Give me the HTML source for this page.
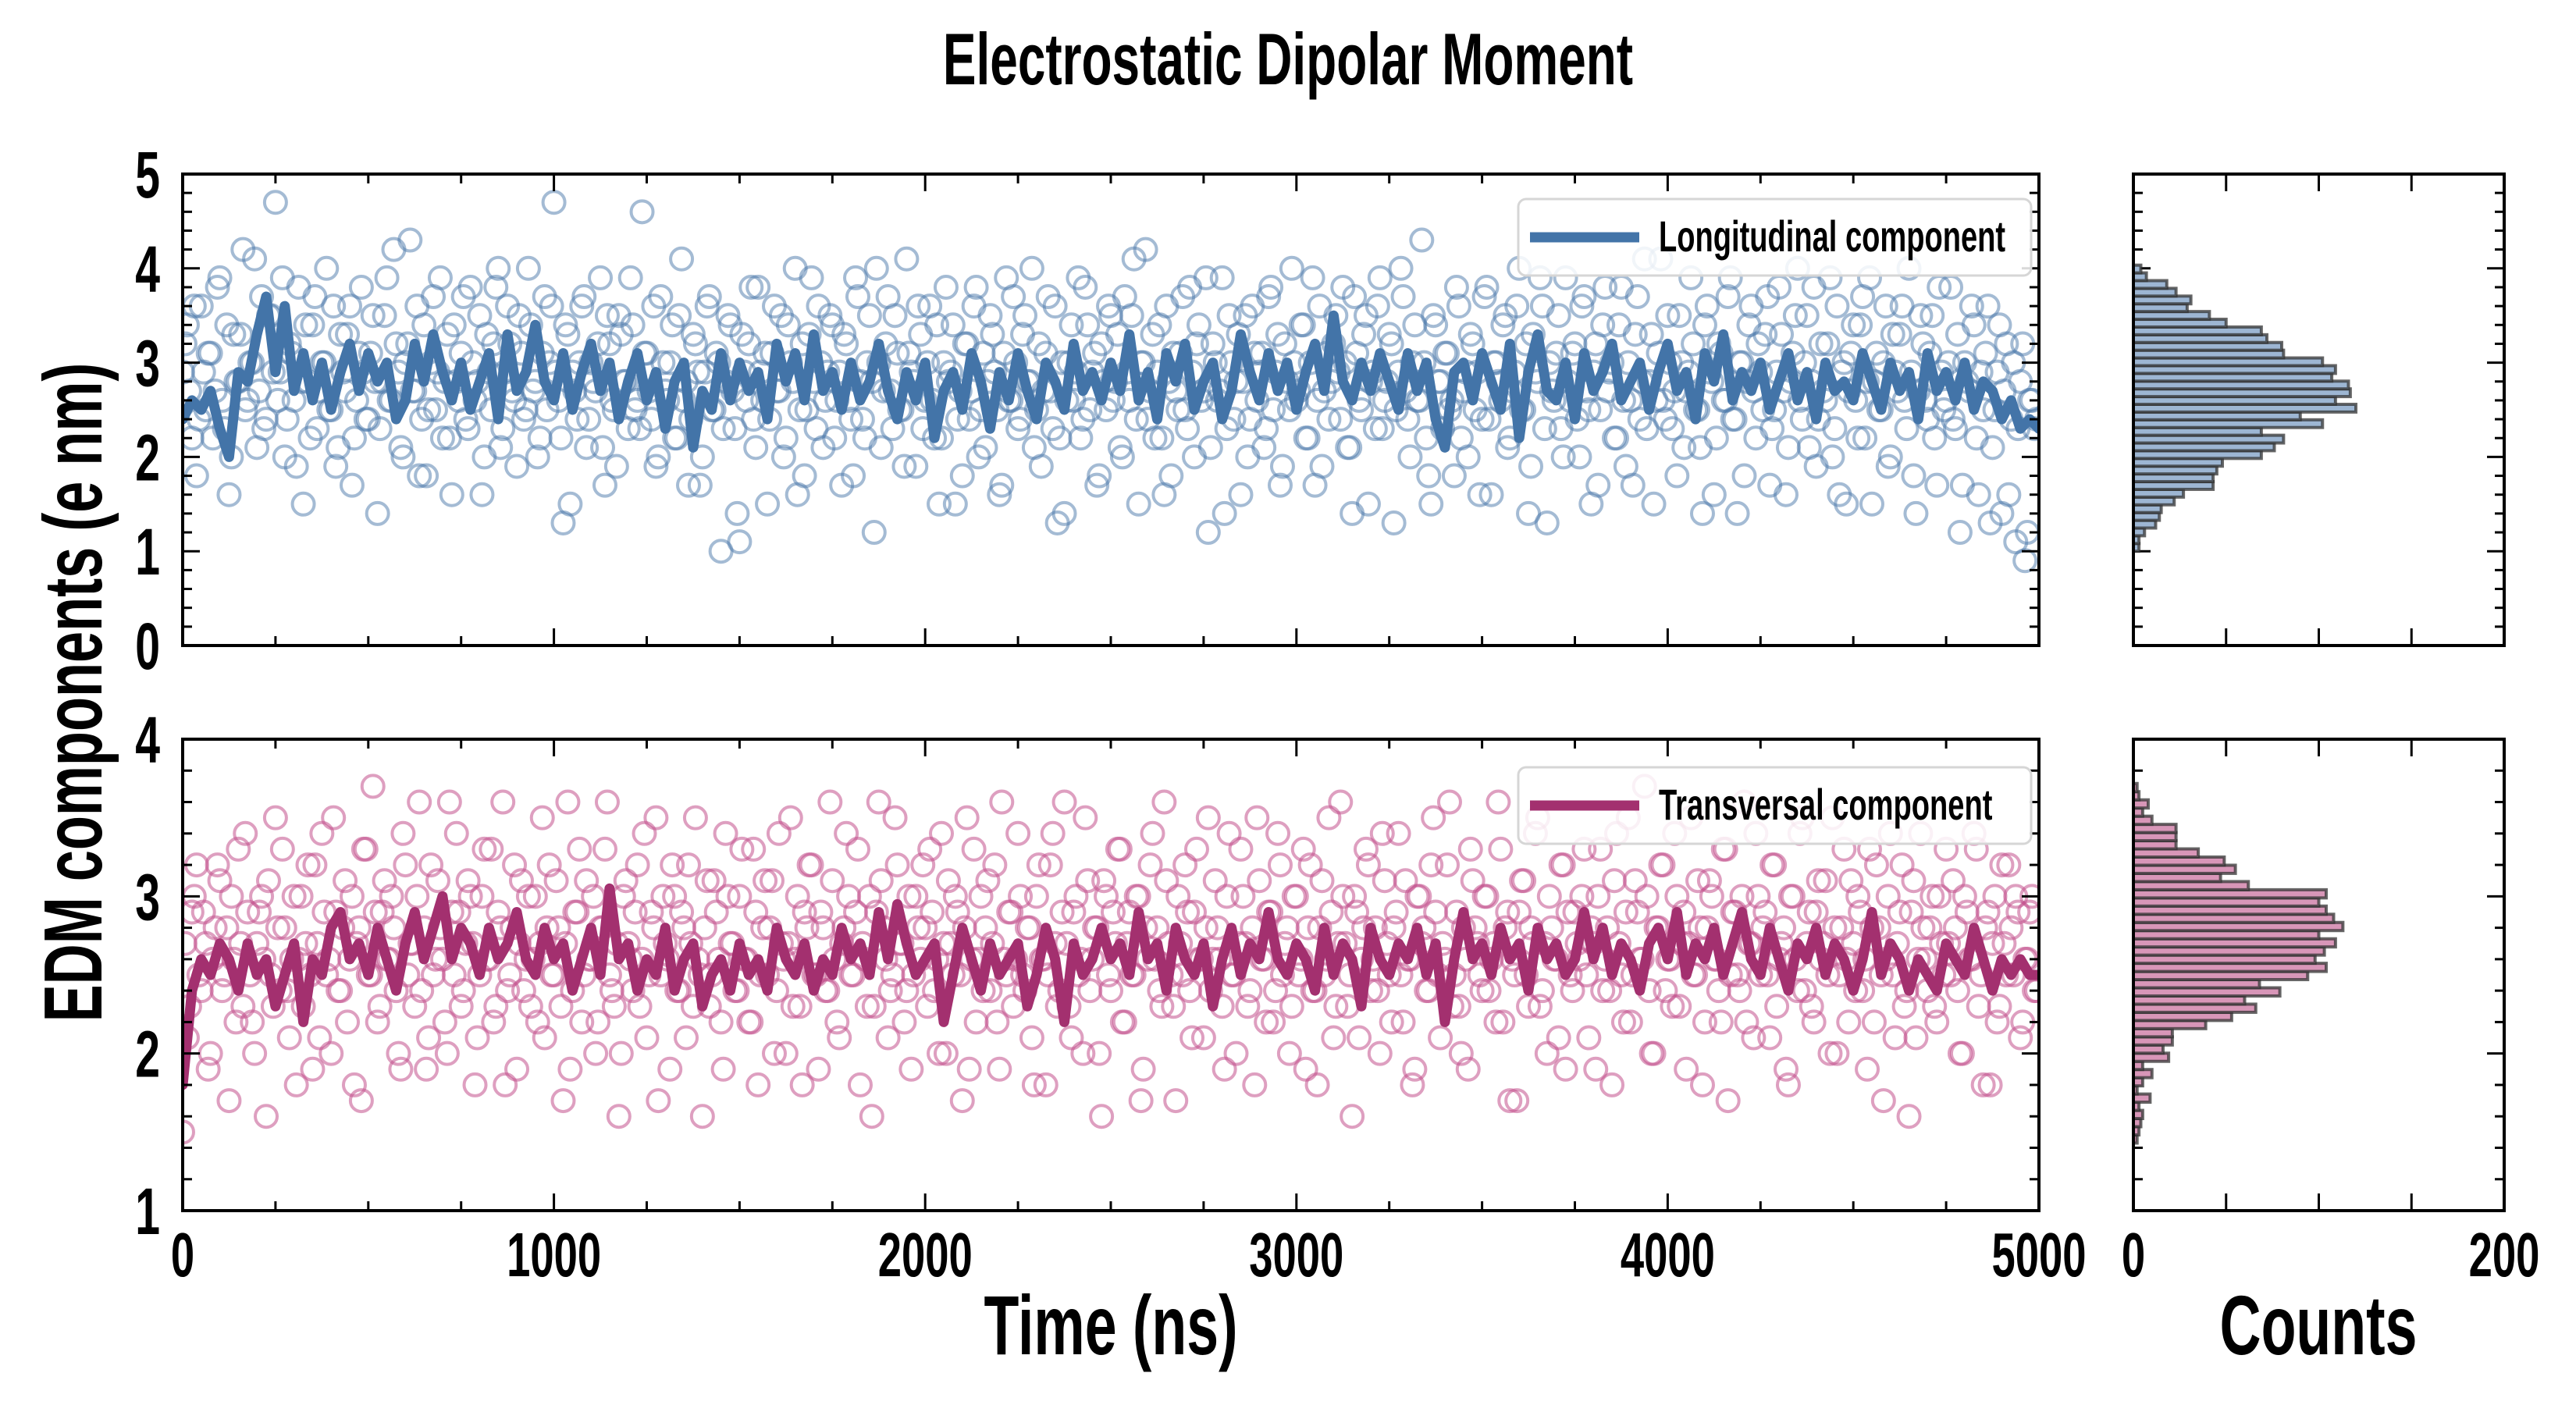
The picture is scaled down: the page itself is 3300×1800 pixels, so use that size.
<!DOCTYPE html>
<html><head><meta charset="utf-8"><style>html,body{margin:0;padding:0;background:#fff}svg{display:block}</style></head>
<body>
<svg id="chart" xmlns="http://www.w3.org/2000/svg" width="3300" height="1800" viewBox="0 0 3300 1800">
<rect width="3300" height="1800" fill="#fff"/>
<g id="root"></g>
</svg>
<script>
const STEP_LINE = 25;
const STEP_SCAT = 12.5;
const SCAT_OFFSET_B = 6.25;
const longLine = [2.4,2.6,2.5,2.7,2.3,2.0,2.9,2.8,3.3,3.7,2.9,3.6,2.7,3.1,2.6,3.0,2.5,2.9,3.2,2.7,3.1,2.8,3.0,2.4,2.6,3.2,2.8,3.3,2.9,2.6,3.0,2.5,2.8,3.1,2.4,3.3,2.7,2.9,3.4,2.8,2.6,3.1,2.5,2.9,3.2,2.7,3.0,2.4,2.8,3.1,2.6,2.9,2.3,2.8,3.0,2.1,2.7,2.5,3.1,2.6,3.0,2.7,2.9,2.4,3.2,2.8,3.1,2.6,3.3,2.7,2.9,2.5,3.0,2.6,2.8,3.2,2.7,2.4,2.9,2.6,3.0,2.2,2.7,2.9,2.5,3.1,2.8,2.3,2.9,2.6,3.1,2.7,2.4,3.0,2.8,2.5,3.2,2.7,2.9,2.6,3.0,2.7,3.3,2.6,2.9,2.4,3.1,2.8,3.2,2.5,2.8,3.0,2.4,2.7,3.3,2.9,2.6,3.1,2.7,3.0,2.5,2.9,3.2,2.7,3.5,2.8,2.6,3.0,2.7,3.1,2.8,2.5,3.1,2.7,3.0,2.4,2.1,2.9,3.0,2.6,3.1,2.8,2.5,3.2,2.2,2.9,3.3,2.7,2.6,3.0,2.4,3.1,2.7,2.9,3.2,2.6,2.8,3.0,2.5,2.9,3.2,2.7,2.9,2.4,3.1,2.8,3.3,2.6,2.9,2.7,3.0,2.5,2.8,3.1,2.6,2.9,2.4,3.0,2.7,2.8,2.6,3.1,2.8,2.5,3.0,2.7,2.9,2.4,3.1,2.7,2.9,2.6,3.0,2.5,2.8,2.7,2.4,2.6,2.3,2.4,2.3];
const transLine = [1.8,2.4,2.6,2.5,2.7,2.6,2.4,2.7,2.5,2.6,2.3,2.5,2.7,2.2,2.6,2.5,2.8,2.9,2.6,2.7,2.5,2.8,2.6,2.4,2.7,2.9,2.6,2.8,3.0,2.6,2.8,2.7,2.5,2.8,2.6,2.7,2.9,2.6,2.5,2.8,2.6,2.7,2.4,2.6,2.8,2.5,3.05,2.6,2.7,2.4,2.6,2.5,2.8,2.4,2.6,2.7,2.3,2.5,2.6,2.4,2.7,2.5,2.6,2.4,2.8,2.6,2.5,2.7,2.4,2.6,2.5,2.8,2.6,2.7,2.5,2.9,2.6,2.95,2.7,2.5,2.6,2.7,2.2,2.5,2.8,2.6,2.4,2.7,2.5,2.6,2.7,2.3,2.5,2.8,2.6,2.2,2.7,2.5,2.6,2.8,2.6,2.7,2.5,2.9,2.6,2.7,2.4,2.8,2.6,2.5,2.7,2.3,2.6,2.8,2.5,2.7,2.6,2.9,2.6,2.5,2.7,2.6,2.4,2.8,2.5,2.7,2.6,2.3,2.8,2.6,2.5,2.7,2.6,2.8,2.5,2.7,2.2,2.6,2.9,2.6,2.7,2.5,2.8,2.6,2.7,2.4,2.8,2.6,2.7,2.5,2.6,2.9,2.6,2.8,2.5,2.7,2.6,2.4,2.7,2.8,2.6,2.9,2.5,2.7,2.6,2.8,2.5,2.7,2.9,2.6,2.5,2.8,2.6,2.4,2.7,2.6,2.8,2.5,2.7,2.6,2.4,2.6,2.9,2.5,2.7,2.6,2.4,2.6,2.5,2.4,2.7,2.6,2.5,2.8,2.6,2.4,2.6,2.5,2.6,2.5,2.5];
const longScatter = [2.9,3.4,2.2,1.8,3.6,2.5,3.1,2.7,3.9,2.3,1.6,3.3,2.8,4.2,2.6,3.0,2.1,3.7,2.4,3.5,4.7,2.9,2.0,3.2,2.6,3.8,1.5,2.8,3.4,2.3,3.0,4.0,2.5,1.9,3.3,2.7,3.6,2.2,3.1,2.9,2.4,3.5,1.4,2.8,3.9,2.6,3.2,2.1,3.0,4.3,2.7,1.8,3.4,2.5,3.7,2.9,2.2,3.3,1.6,2.8,3.1,2.4,3.8,2.6,3.5,2.0,2.9,3.2,4.0,2.3,3.6,2.7,1.9,3.1,2.5,3.4,2.8,2.2,3.7,3.0,4.7,2.6,1.3,3.3,2.9,2.4,3.6,2.1,3.0,2.7,3.9,1.7,3.2,2.5,3.5,2.8,2.3,3.4,2.6,4.6,3.1,2.4,1.9,3.7,2.7,3.0,2.2,3.5,2.6,1.7,3.3,2.9,2.0,3.6,2.5,3.1,1.0,2.8,3.4,2.3,1.1,2.9,3.2,2.4,3.8,2.6,1.5,3.1,2.7,3.5,2.2,3.0,4.0,2.5,1.8,3.3,2.8,3.6,2.1,2.9,3.4,2.6,1.7,3.2,2.4,3.9,2.8,2.2,3.5,1.2,3.0,2.7,3.7,2.3,3.1,2.5,4.1,2.9,1.9,3.3,2.6,3.6,2.2,1.5,3.0,2.8,3.4,2.4,1.8,3.2,2.7,3.8,2.5,2.1,3.5,2.9,1.6,3.1,2.6,3.7,2.3,3.3,2.8,4.0,2.5,1.9,3.1,2.7,3.6,2.2,1.4,3.0,2.6,3.9,2.4,3.4,2.9,1.7,3.2,2.5,3.5,2.8,2.1,3.7,2.6,4.1,1.5,3.0,2.4,3.3,2.9,2.2,3.6,1.8,2.7,3.1,2.5,3.8,2.0,3.4,2.7,1.2,3.2,2.6,3.9,2.3,3.0,2.8,1.6,3.5,2.4,3.1,2.9,2.1,3.7,2.5,3.3,1.9,2.8,4.0,2.6,3.4,2.2,3.0,1.7,3.6,2.7,2.4,3.2,2.9,3.8,2.1,1.4,3.1,2.5,3.5,2.8,2.3,3.9,2.6,3.3,1.3,2.9,3.7,2.4,3.0,2.6,4.3,2.2,1.5,3.4,2.8,3.1,2.5,1.8,3.6,2.7,2.0,3.2,2.9,2.4,3.8,1.6,3.0,2.6,3.5,2.2,2.9,4.0,2.5,1.4,3.3,2.8,3.6,1.3,2.7,3.1,2.3,3.9,2.6,3.2,2.0,3.7,2.5,2.9,1.7,3.4,2.7,3.0,2.2,3.8,1.9,2.6,3.3,2.4,4.1,2.8,1.5,3.1,2.6,3.5,2.3,1.8,3.0,2.7,3.9,2.5,2.1,3.4,2.9,1.6,3.2,2.6,3.7,2.4,1.4,3.0,2.8,3.6,2.2,2.9,3.3,1.7,2.5,3.8,2.7,2.1,3.1,4.0,2.4,3.5,2.8,1.9,3.2,2.6,3.9,2.3,1.6,3.0,2.7,3.4,2.2,3.7,2.8,1.5,3.1,2.5,3.6,2.0,2.9,3.3,2.6,4.0,1.8,2.7,3.2,2.4,3.5,1.7,2.9,2.6,3.8,2.3,1.2,3.0,2.7,3.4,1.6,2.5,3.6,2.1,2.9,1.4,3.2,2.4,1.1,2.8,0.9,2.6,2.3];
const longScatterB = [3.2,2.7,3.6,2.4,2.9,3.1,2.2,3.8,2.6,3.4,2.0,2.8,3.3,2.5,3.0,4.1,2.7,2.3,3.5,2.9,2.6,3.9,2.4,3.1,1.9,2.8,3.4,2.2,3.7,2.7,3.0,2.5,3.6,2.1,2.9,3.3,1.7,2.6,3.8,2.4,3.1,2.8,2.3,3.5,2.6,4.2,2.9,2.0,3.2,2.7,3.6,2.4,1.8,3.0,2.5,3.9,2.8,2.2,3.4,2.6,3.7,2.3,3.0,2.8,1.6,3.3,2.5,3.8,2.1,2.9,3.2,2.6,3.5,2.4,4.0,2.7,2.0,3.1,2.5,3.6,2.9,2.2,3.4,1.5,2.7,3.0,3.7,2.4,2.8,3.2,2.1,3.5,2.6,1.9,3.3,2.8,3.9,2.5,2.3,3.1,2.7,3.6,2.0,3.0,2.6,3.4,2.2,4.1,2.8,2.4,3.2,1.7,2.9,3.7,2.5,3.0,2.3,3.5,2.7,1.4,3.3,2.6,3.8,2.1,2.9,3.1,2.4,3.6,2.7,2.0,3.4,2.8,1.6,3.2,2.5,3.9,2.3,3.0,2.6,3.5,2.2,2.9,3.3,2.6,1.8,3.7,2.4,3.0,2.8,4.0,2.1,3.2,2.7,3.5,2.5,1.9,3.1,2.8,3.6,2.3,3.0,2.6,3.4,2.2,3.8,2.9,1.5,2.7,3.2,2.4,3.6,2.0,3.1,2.8,3.3,2.5,1.7,3.9,2.6,3.0,2.4,3.5,2.8,2.1,3.2,2.7,3.7,2.3,1.3,3.0,2.6,3.4,2.9,2.2,3.8,2.5,3.1,1.8,2.8,3.6,2.6,3.3,2.0,2.9,3.5,2.4,3.0,4.2,2.7,2.2,3.4,1.6,2.8,3.1,2.5,3.7,2.3,2.9,3.2,2.6,3.9,2.1,3.0,2.7,1.4,3.5,2.4,3.3,2.8,2.0,3.6,2.6,3.1,2.3,3.8,2.9,1.7,3.2,2.5,3.0,2.7,3.4,2.2,3.9,2.6,1.9,3.1,2.8,3.5,2.4,3.0,2.1,3.7,2.6,3.3,1.5,2.9,3.6,2.3,2.8,3.2,2.5,4.0,2.7,2.0,3.4,2.6,3.0,1.8,3.5,2.8,2.3,3.1,2.6,3.8,2.2,2.9,3.3,2.5,1.6,3.7,2.4,3.0,2.8,3.4,2.1,2.7,3.6,2.5,3.2,1.9,2.9,3.9,2.3,3.0,2.6,3.5,2.0,2.8,3.1,2.4,3.6,2.7,1.5,3.2,2.5,3.8,2.9,2.2,3.4,2.6,3.0,1.7,3.7,2.8,2.3,3.3,2.6,4.1,2.4,3.0,2.7,3.5,2.1,2.9,3.2,2.5,1.4,3.6,2.8,2.2,3.1,2.6,3.9,2.4,3.0,1.8,3.4,2.7,3.2,2.5,3.7,2.3,2.9,3.3,1.6,2.8,3.5,2.6,3.0,2.1,3.8,2.4,2.7,3.2,2.0,3.6,2.9,1.5,3.1,2.6,3.4,2.2,3.9,2.8,2.5,3.0,1.9,3.3,2.7,3.6,2.3,2.9,1.4,3.5,2.6,3.1,2.2,3.8,2.5,3.0,2.4,3.3,1.7,2.8,3.6,2.2,2.9,3.1,1.3,2.5,3.4,2.7,1.6,3.0,2.3,3.2,1.2,2.6,2.4];
const transScatter = [1.5,2.1,2.9,3.2,2.4,2.7,2.0,2.8,3.1,2.5,1.7,2.6,3.3,2.3,2.9,2.2,2.7,3.0,1.6,2.5,3.5,2.4,2.8,2.1,3.0,2.6,2.3,3.2,1.9,2.7,3.4,2.5,2.0,2.9,2.4,3.1,2.6,1.8,2.8,3.3,2.5,3.7,2.2,2.9,2.6,3.0,2.4,1.9,3.2,2.7,2.3,3.6,2.8,2.1,2.5,3.1,2.6,2.0,2.9,3.4,2.3,2.7,3.0,1.8,2.5,3.3,2.6,2.2,2.9,3.6,2.4,2.8,1.9,3.1,2.6,2.3,3.0,2.7,2.1,3.2,2.5,2.8,1.7,3.6,2.4,2.9,2.2,3.1,2.6,2.0,2.8,3.3,2.5,2.3,1.6,3.0,2.7,2.4,3.2,2.6,2.1,2.9,3.5,2.5,2.7,1.9,3.0,2.4,2.8,3.2,2.3,2.6,1.6,3.1,2.5,2.9,2.2,3.4,2.7,2.4,3.0,2.6,2.2,3.3,1.8,2.8,2.5,3.1,2.4,2.7,2.0,3.5,2.6,2.3,2.9,3.2,2.5,1.9,2.8,2.4,3.1,2.2,2.7,3.4,2.5,2.9,1.8,2.6,3.0,2.3,3.6,2.8,2.1,2.5,3.2,2.7,2.4,1.9,3.0,2.6,2.8,3.3,2.4,2.0,2.7,3.1,2.5,2.9,1.7,3.5,2.6,2.2,3.0,2.8,2.4,3.2,1.9,2.6,2.9,2.3,3.4,2.5,2.8,2.1,3.0,2.6,1.8,3.2,2.7,2.4,3.6,2.3,2.9,2.5,2.0,3.1,2.6,2.8,1.6,3.0,2.4,2.7,3.3,2.2,2.9,2.5,3.0,1.9,2.6,3.4,2.8,2.3,3.1,2.5,1.7,2.7,3.2,2.4,2.9,2.6,2.1,3.5,2.6,2.8,2.3,3.0,2.5,2.0,3.3,2.7,2.4,1.8,3.1,2.6,2.9,2.2,3.4,2.5,2.8,2.3,3.0,2.6,1.9,3.2,2.4,2.8,2.5,3.5,2.1,2.7,3.0,2.3,1.6,2.9,2.6,3.3,2.4,2.8,2.0,3.1,2.5,2.8,3.4,2.2,2.6,1.8,3.0,2.7,2.4,3.2,2.9,2.1,2.6,3.6,2.5,2.3,2.8,1.9,3.1,2.7,2.4,3.0,2.6,2.2,3.3,2.8,1.7,2.5,2.9,3.1,2.3,2.7,3.5,2.4,2.0,2.8,2.6,3.2,1.9,2.5,2.9,2.6,3.3,2.1,2.7,3.0,2.4,2.8,1.8,3.4,2.5,2.9,2.2,3.1,2.6,3.7,2.4,2.0,2.8,3.2,2.6,2.3,3.0,2.7,1.9,3.5,2.5,2.8,2.2,3.1,2.6,2.4,3.3,1.7,2.9,2.5,3.0,2.2,2.7,3.4,2.5,2.9,2.1,3.2,2.6,2.8,1.8,3.0,2.4,3.5,2.7,2.3,2.9,2.6,3.1,2.0,2.8,2.5,3.3,2.2,2.7,3.0,2.4,1.9,2.8,3.2,2.5,2.6,3.4,2.1,2.9,2.3,1.6,3.1,2.6,2.8,2.4,3.0,2.2,2.7,3.3,2.5,2.8,2.0,3.0,2.6,3.4,2.3,1.8,2.9,2.7,2.2,3.2,2.5,2.8,3.0,2.1,2.6,2.9,2.4];
const transScatterB = [2.7,2.3,3.0,2.5,2.9,1.9,2.6,3.2,2.4,2.8,3.0,2.2,2.7,3.4,2.5,2.0,2.9,2.6,3.1,2.3,2.8,3.3,2.4,2.6,1.8,3.0,2.7,2.5,3.2,2.1,2.9,2.6,3.5,2.4,2.8,2.2,3.0,2.7,1.7,3.3,2.5,2.9,2.3,3.1,2.6,2.8,2.0,3.4,2.5,2.7,3.0,2.4,1.9,3.2,2.6,2.8,2.2,3.6,2.5,2.9,2.4,3.1,2.7,2.1,3.0,2.6,3.3,2.3,2.8,1.8,2.5,3.2,2.7,2.4,3.0,2.6,2.2,3.5,2.8,2.5,3.1,2.3,2.7,1.9,2.9,3.3,2.5,2.6,3.0,2.2,2.8,3.6,2.4,2.7,2.0,3.1,2.6,2.9,2.3,3.4,2.5,2.8,1.7,3.0,2.6,3.2,2.4,2.9,2.1,2.7,3.5,2.5,2.8,2.3,3.1,2.6,1.9,3.0,2.7,2.4,3.3,2.6,2.2,2.9,2.5,3.1,2.8,2.0,3.4,2.6,2.7,2.3,3.0,1.8,2.8,3.2,2.5,2.9,2.4,3.6,2.6,2.1,2.8,3.0,2.5,3.3,2.7,2.3,1.6,2.9,3.1,2.6,2.4,3.5,2.7,2.2,3.0,2.5,2.8,3.2,2.3,2.9,2.6,3.4,2.0,2.7,3.0,2.5,2.8,1.9,3.3,2.6,2.4,3.1,2.7,2.2,3.6,2.5,2.9,2.6,3.0,2.4,2.8,1.8,3.2,2.6,2.5,3.4,2.3,2.9,2.7,2.1,3.0,2.6,3.5,2.4,2.8,2.0,3.1,2.5,2.9,3.3,2.2,2.7,2.5,3.0,1.7,2.8,3.2,2.6,2.4,3.6,2.7,2.3,3.0,2.5,2.9,2.1,3.3,2.6,2.8,2.4,3.1,2.6,1.9,3.4,2.5,2.7,3.0,2.3,2.8,3.5,2.6,2.2,2.9,2.4,3.2,2.7,2.0,3.0,2.5,3.3,2.8,2.4,1.8,3.1,2.6,2.9,2.3,3.6,2.7,2.5,3.0,2.1,2.8,3.2,2.6,2.4,3.4,2.7,2.2,2.9,2.5,3.1,2.6,1.9,3.0,2.8,2.4,3.5,2.5,2.7,3.2,2.3,2.9,2.0,2.6,3.3,2.8,2.5,3.0,2.4,2.7,3.6,2.2,2.9,2.6,1.7,3.1,2.5,2.8,3.4,2.3,2.7,3.0,2.6,2.1,3.2,2.9,2.4,2.7,3.0,2.5,2.8,1.9,3.3,2.6,2.4,3.1,2.7,2.2,3.5,2.5,2.9,2.6,3.0,2.0,2.8,3.2,2.4,2.6,3.4,2.3,2.9,2.7,2.5,3.1,1.8,2.8,3.0,2.6,2.2,3.3,2.5,2.9,2.4,3.6,2.7,2.1,3.0,2.8,2.5,3.2,2.3,2.7,1.9,3.0,2.6,3.4,2.4,2.9,2.2,3.1,2.7,2.5,3.5,2.0,2.8,2.6,3.1,2.4,2.9,2.6,3.3,2.2,2.8,1.7,3.0,2.5,2.7,3.2,2.4,2.9,2.1,3.4,2.6,2.8,2.3,3.0,2.5,2.7,3.1,2.4,2.0,2.9,2.6,3.3,2.5,2.8,1.8,3.0,2.3,2.7,3.2,2.5,2.9,2.2,2.6,3.0,2.4];
const longHistStart = 1.0, longHistWidth = 0.082;
const longHist = [3,3,6,12,14,15,22,27,43,43,45,48,69,76,81,69,102,90,120,109,117,116,107,109,102,81,80,72,69,50,41,29,31,23,18,7,4];
const transHistStart = 1.43, transHistWidth = 0.052;
const transHist = [2,3,4,5,3,9,2,5,10,5,19,16,21,21,39,53,66,60,79,68,94,104,98,103,109,100,113,108,104,100,104,62,47,55,49,35,23,23,23,10,5,8,3,2];
const xTicks = [0,1000,2000,3000,4000,5000];
const topYTicks = [0,1,2,3,4,5];
const botYTicks = [1,2,3,4];
const histTicks = [0,200];
</script>
<script>
const NS='http://www.w3.org/2000/svg';
const root=document.getElementById('root');
function mk(tag,attrs,parent){const e=document.createElementNS(NS,tag);for(const k in attrs)e.setAttribute(k,attrs[k]);(parent||root).appendChild(e);return e;}
const FONT='"Liberation Sans", sans-serif';
function txt(x,y,s,size,anchor,rot,name,parent,sx){
  const g=mk('g',{transform:`translate(${x},${y}) rotate(${rot||0}) scale(${sx||0.68},1)`},parent);
  const t=mk('text',{x:0,y:0,'font-family':FONT,'font-weight':'bold','font-size':size,'text-anchor':anchor||'middle',fill:'#000'},g);
  t.textContent=s;
  
  
  return t;
}
const L=234,R=2612,HL=2733,HR=3208;
const P1={top:223,bot:827,y0:0,y1:5}, P2={top:947,bot:1551,y0:1,y1:4};
const xS=v=>L+(v/5000)*(R-L);
const yS=(p,v)=>p.bot-(v-p.y0)/(p.y1-p.y0)*(p.bot-p.top);
const hS=v=>HL+(v/200)*(HR-HL);

txt(1650,108,'Electrostatic Dipolar Moment',94,'middle',0,'chart-title',null,0.68);

function panel(p,line,scat,scatB,hist,hStart,hW,yT,lineCol,mCol,mOp,hCol,legendText,legendY,id){
  const g=mk('g',{});
  
  
  const clip=mk('clipPath',{id:'clip-'+id},g);
  mk('rect',{x:L,y:p.top,width:R-L,height:p.bot-p.top},clip);
  const sg=mk('g',{'clip-path':`url(#clip-${id})`},g);
  function dot(t,v){
    const c=mk('circle',{cx:xS(t),cy:yS(p,v),r:14,fill:'none',stroke:mCol,'stroke-width':4,'stroke-opacity':mOp},sg);
    
    
  }
  scat.forEach((v,i)=>dot(i*STEP_SCAT,v));
  scatB.forEach((v,i)=>dot(i*STEP_SCAT+SCAT_OFFSET_B,v));
  const d=line.map((v,i)=>(i?'L':'M')+xS(i*STEP_LINE).toFixed(1)+','+yS(p,v).toFixed(1)).join('');
  const pl=mk('path',{d:d,fill:'none',stroke:lineCol,'stroke-width':13,'stroke-linejoin':'round','stroke-linecap':'round'},sg);
  
  
  mk('rect',{x:L,y:p.top,width:R-L,height:p.bot-p.top,fill:'none',stroke:'#000','stroke-width':4},g);
  for(let v=0;v<=5000;v+=250){
    const major=v%1000===0, len=major?22:12, x=xS(v);
    mk('line',{x1:x,x2:x,y1:p.bot,y2:p.bot-len,stroke:'#000','stroke-width':3},g);
    mk('line',{x1:x,x2:x,y1:p.top,y2:p.top+len,stroke:'#000','stroke-width':3},g);
  }
  for(let v=p.y0;v<=p.y1+1e-9;v+=0.2){
    const major=Math.abs(v-Math.round(v))<1e-6, len=major?22:12, y=yS(p,v);
    [[L,1],[R,-1],[HL,1],[HR,-1]].forEach(([x0,dir])=>mk('line',{x1:x0,x2:x0+dir*len,y1:y,y2:y,stroke:'#000','stroke-width':3},g));
  }
  yT.forEach(v=>txt(205,yS(p,v)+30,String(v),84,'end',0,id+'-y-tick-label'));
  hist.forEach((c,i)=>{
    const lo=hStart+i*hW, hi=lo+hW;
    const r=mk('rect',{x:HL,y:yS(p,hi),width:hS(c)-HL,height:yS(p,lo)-yS(p,hi),fill:hCol,stroke:'#333','stroke-width':4,'stroke-opacity':0.75},g);
    
    
  });
  mk('rect',{x:HL,y:p.top,width:HR-HL,height:p.bot-p.top,fill:'none',stroke:'#000','stroke-width':4},g);
  [50,100,150].forEach(v=>{
    mk('line',{x1:hS(v),x2:hS(v),y1:p.bot,y2:p.bot-22,stroke:'#000','stroke-width':3},g);
    mk('line',{x1:hS(v),x2:hS(v),y1:p.top,y2:p.top+22,stroke:'#000','stroke-width':3},g);
  });
  const lg=mk('g',{},g);
  
  
  mk('rect',{x:1945,y:legendY,width:657,height:98,rx:10,fill:'#fff','fill-opacity':0.85,stroke:'#d6d6d6','stroke-width':3},lg);
  mk('line',{x1:1960,x2:2100,y1:legendY+49,y2:legendY+49,stroke:lineCol,'stroke-width':13},lg);
  txt(2125,legendY+67,legendText,56,'start',0,id+'-legend-label',lg);
}
panel(P1,longLine,longScatter,longScatterB,longHist,longHistStart,longHistWidth,topYTicks,'#4374a8','#4a78aa',0.5,'#9db6d3','Longitudinal component',255,'longitudinal');
panel(P2,transLine,transScatter,transScatterB,transHist,transHistStart,transHistWidth,botYTicks,'#a3306f','#c2508c',0.55,'#d896b8','Transversal component',983,'transversal');

xTicks.forEach(v=>txt(xS(v),1635,String(v),80,'middle',0,'x-tick-label'));
histTicks.forEach(v=>txt(hS(v),1635,String(v),80,'middle',0,'hist-x-tick-label'));
txt(1423,1735,'Time (ns)',108,'middle',0,'x-axis-title');
txt(2970,1735,'Counts',108,'middle',0,'hist-x-axis-title');
txt(130,887,'EDM components (e nm)',106,'middle',-90,'y-axis-title');
</script>
</body></html>
